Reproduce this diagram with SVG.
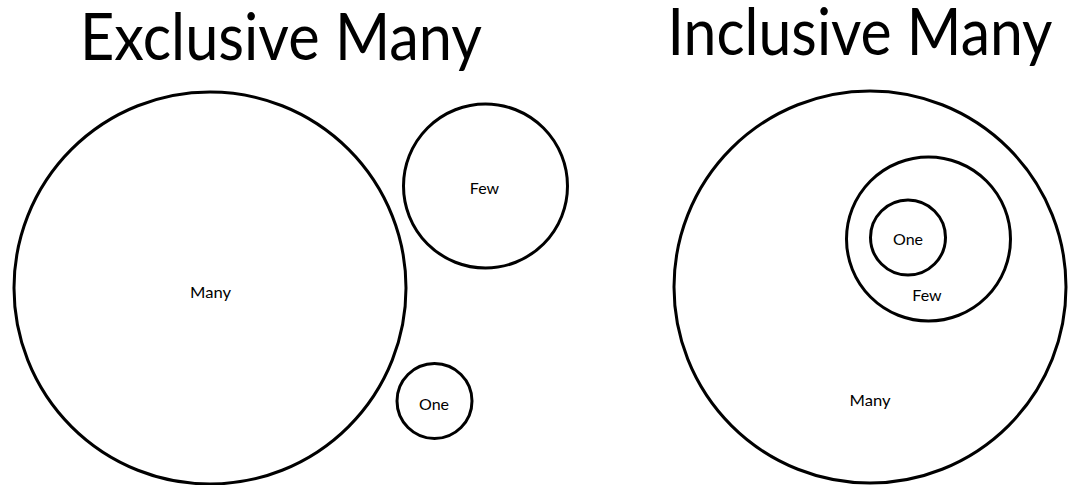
<svg xmlns="http://www.w3.org/2000/svg" width="1082" height="485" viewBox="0 0 1082 485">
<style>
circle{fill:none;stroke:#000;stroke-width:3}
text{font-family:Lato,"Open Sans","Liberation Sans",sans-serif;fill:#000;text-anchor:middle}
.t{font-size:66px}
.l{font-size:16px}
</style>
<rect width="1082" height="485" fill="#fff"/>
<g id="title-exclusive"><text class="t" x="281" y="60" textLength="402" lengthAdjust="spacingAndGlyphs">Exclusive Many</text></g>
<g id="title-inclusive"><text class="t" x="860" y="55" textLength="385" lengthAdjust="spacingAndGlyphs">Inclusive Many</text></g>
<g id="ex-many"><circle cx="210" cy="288" r="196"/><text class="l" x="210.5" y="298" textLength="41" lengthAdjust="spacingAndGlyphs">Many</text></g>
<g id="ex-few"><circle cx="485.5" cy="186" r="82"/><text class="l" x="484.5" y="194">Few</text></g>
<g id="ex-one"><circle cx="434.5" cy="401" r="37.5"/><text class="l" x="434" y="410">One</text></g>
<g id="in-many"><circle cx="870" cy="287" r="196"/><text class="l" x="870" y="406" textLength="41" lengthAdjust="spacingAndGlyphs">Many</text></g>
<g id="in-few"><circle cx="928.5" cy="239" r="82"/><text class="l" x="927" y="301">Few</text></g>
<g id="in-one"><circle cx="908" cy="237.5" r="37.5"/><text class="l" x="908" y="245">One</text></g>
<g id="connectors"/>
</svg>
